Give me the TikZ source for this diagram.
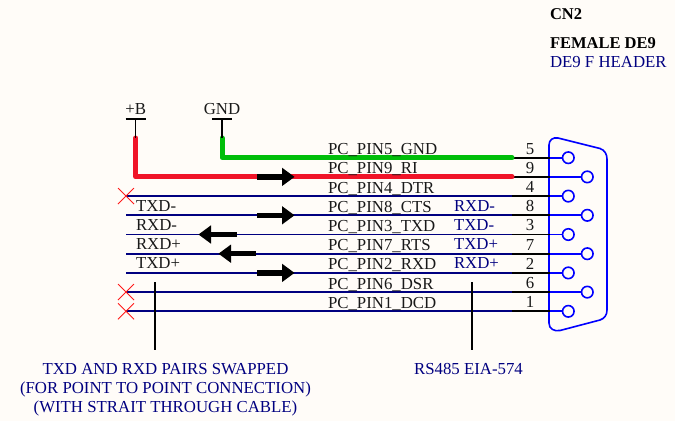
\documentclass[tikz,border=0pt]{standalone}
\usepackage{fontspec}
\setmainfont{Liberation Serif}
\usetikzlibrary{arrows.meta}
\definecolor{bgc}{HTML}{FFFCF8}
\definecolor{wirenavy}{RGB}{0,0,128}
\definecolor{pinblue}{RGB}{0,0,255}
\definecolor{wred}{RGB}{240,20,40}
\definecolor{wgreen}{RGB}{0,190,10}
\definecolor{txtc}{RGB}{25,25,25}
\tikzset{
  x=1pt,y=-1pt,
  every node/.style={font=\fontsize{16.8}{19}\selectfont,inner sep=0pt,outer sep=0pt},
  blk/.style={anchor=base west,text=txtc},
  nav/.style={anchor=base west,text=wirenavy},
  navc/.style={anchor=base,text=wirenavy,align=center},
  pinnum/.style={anchor=base,text=txtc},
  boldl/.style={anchor=base west,text=black,font=\fontsize{16.5}{19}\selectfont\bfseries},
  wire/.style={draw=wirenavy,line width=1.9pt},
  pinblack/.style={draw=black,line width=1.7pt},
  pinbl/.style={draw=pinblue,line width=1.7pt},
  hole/.style={circle,draw=pinblue,line width=1.6pt,minimum size=11.5pt,fill=none},
  shell/.style={draw=pinblue,line width=1.6pt,line join=round},
  redw/.style={draw=wred,line width=5pt,line join=round,line cap=round},
  greenw/.style={draw=wgreen,line width=5pt,line join=round,line cap=round},
  nc/.style={draw=red!90!white,line width=0.9pt},
  tee/.style={draw=black,line width=1.4pt},
  call/.style={draw=black,line width=1.4pt},
  fat/.style={draw=black,line width=5.2pt,-{Triangle[length=12.6pt,width=17.5pt]},shorten >=-0.1pt},
}
\begin{document}
\begin{tikzpicture}
\useasboundingbox[fill=bgc] (0,0) rectangle (675,421);
% connector shell
\draw[shell] (549,145) .. controls (549,140) and (553,137) .. (558,138)
  -- (600,148.5) .. controls (604.5,150) and (607,154) .. (607,159)
  -- (607,310) .. controls (607,315) and (604.5,318.5) .. (600,320) -- (560,330.5)
  .. controls (554,331.5) and (549,329) .. (549,323) -- cycle;
% pins
\foreach \n/\py/\px/\nm in {5/157.7/568.3/p5,9/176.9/587.3/p9,4/196.1/568.3/p4,8/215.3/587.3/p8,3/234.5/568.3/p3,7/253.7/587.3/p7,2/272.9/568.3/p2,6/292.1/587.3/p6,1/311.3/568.3/p1}{
  \node[hole] (\nm) at (\px,\py) {};
  \coordinate (j\n) at (512,\py);
  \coordinate (k\n) at (550,\py);
  \draw[pinbl] (k\n) -- (\nm);
  \draw[pinblack] (j\n) -- (k\n);
  \node[pinnum] (n\n) at (530,\py-3.6) {\n};
}
% blue wires
\foreach \n/\py in {4/196.1,8/215.3,3/234.5,7/253.7,2/272.9,6/292.1,1/311.3}{
  \coordinate (s\n) at (126,\py);
  \draw[wire] (s\n) -- (j\n);
}
% power
\coordinate (bT) at (135.7,119);
\coordinate (bS) at (135.7,138);
\coordinate (gT) at (222,119);
\coordinate (gS) at (222,138);
\node[anchor=base,text=txtc] (plusb) at (135.7,114) {+B};
\node[anchor=base,text=txtc] (gnd) at (222,114) {GND};
\draw[redw] (bS) |- (j9);
\draw[greenw] (gS) |- (j5);
\draw[tee] (bT) -- (bS);
\draw[tee] (gT) -- (gS);
\draw[tee] ([xshift=-10pt]bT) -- ([xshift=10pt]bT);
\draw[tee] ([xshift=-10pt]gT) -- ([xshift=10pt]gT);
% NC crosses
\foreach \n in {4,6,1}{
  \draw[nc] ([shift={(-8,-8)}]s\n) -- ([shift={(8,8)}]s\n);
  \draw[nc] ([shift={(-8,8)}]s\n) -- ([shift={(8,-8)}]s\n);
}
% net labels
\foreach \n/\py/\t in {5/157.7/PC\_PIN5\_GND,9/176.9/PC\_PIN9\_RI,4/196.1/PC\_PIN4\_DTR,8/215.3/PC\_PIN8\_CTS,3/234.5/PC\_PIN3\_TXD,7/253.7/PC\_PIN7\_RTS,2/272.9/PC\_PIN2\_RXD,6/292.1/PC\_PIN6\_DSR,1/311.3/PC\_PIN1\_DCD}{
  \node[blk] (l\n) at (328,\py-3) {\t};
}
\node[blk] (tm) at (136,211) {TXD-};
\node[blk] (rm) at (136,230.2) {RXD-};
\node[blk] (rp) at (136,249.4) {RXD+};
\node[blk] (tp) at (136,268.6) {TXD+};
\node[nav] (r2m) at (454,211) {RXD-};
\node[nav] (t2m) at (454,230.2) {TXD-};
\node[nav] (t2p) at (454,249.4) {TXD+};
\node[nav] (r2p) at (454,268.6) {RXD+};
% arrows
\draw[fat] (257,176.9) -- (294.5,176.9);
\draw[fat] (257,215.3) -- (294.5,215.3);
\draw[fat] (257,272.9) -- (294.5,272.9);
\draw[fat] (236.5,234.5) -- (198.5,234.5);
\draw[fat] (256,253.7) -- (218.5,253.7);
% callouts
\coordinate (c1t) at (155,282);
\coordinate (c1b) at (155,350);
\coordinate (c2t) at (472,282);
\coordinate (c2b) at (472,350);
\draw[call] (c1t) -- (c1b);
\draw[call] (c2t) -- (c2b);
\node[navc] (note1) at (165.5,374.5) {TXD AND RXD PAIRS SWAPPED};
\node[navc] (note2) at (165.5,393.5) {(FOR POINT TO POINT CONNECTION)};
\node[navc] (note3) at (165.5,412.5) {(WITH STRAIT THROUGH CABLE)};
\node[navc] (note4) at (468.5,374.5) {RS485 EIA-574};
% title
\node[boldl] (cn) at (550,19.5) {CN2};
\node[boldl] (fem) at (550,48.5) {FEMALE DE9};
\node[nav] (hdr) at (550,67) {DE9 F HEADER};
\end{tikzpicture}
\end{document}
